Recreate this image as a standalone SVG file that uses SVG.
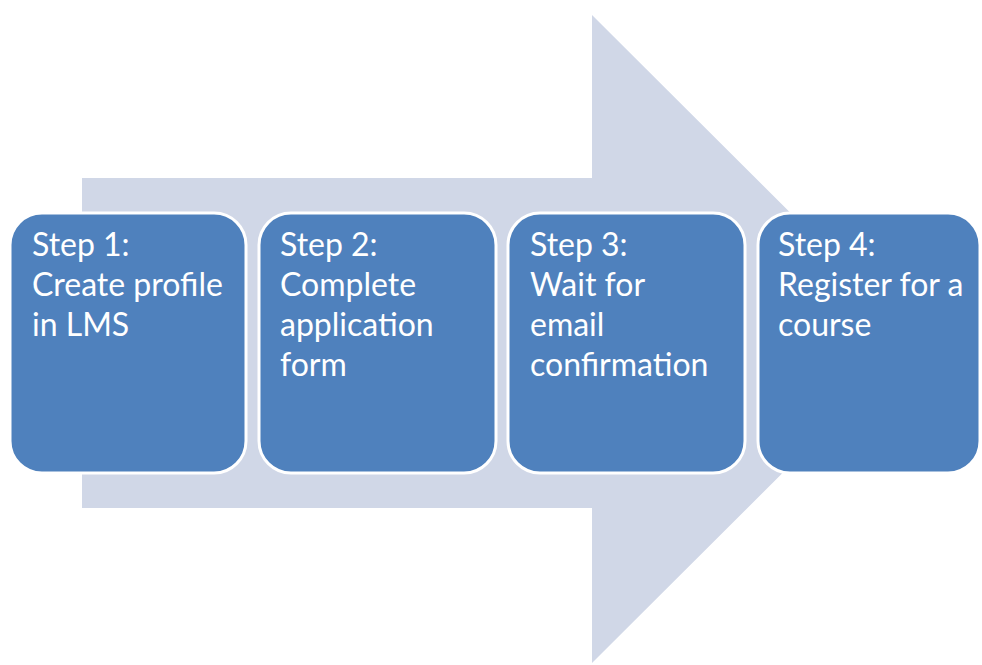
<svg xmlns="http://www.w3.org/2000/svg" width="982" height="665" viewBox="0 0 982 665">
<style>
.box{fill:#4F81BD;stroke:#FFFFFF;stroke-width:3}
.t{fill:#FFFFFF;font-family:Lato,"Open Sans","Liberation Sans",sans-serif;font-size:32px}
</style>
<rect width="982" height="665" fill="#FFFFFF"/>
<g id="arrow">
<polygon points="82,178 592,178 592,15 917,339 592,663 592,508 82,508" fill="#D0D7E7"/>
</g>
<g id="step1">
<rect class="box" x="10" y="213" width="236" height="260" rx="32"/>
<text class="t" x="32" y="256">Step 1:</text>
<text class="t" x="32" y="296">Create profile</text>
<text class="t" x="32" y="336">in LMS</text>
</g>
<g id="step2">
<rect class="box" x="259" y="213" width="237" height="260" rx="32"/>
<text class="t" x="280" y="256">Step 2:</text>
<text class="t" x="280" y="296">Complete</text>
<text class="t" x="280" y="336">application</text>
<text class="t" x="280" y="376">form</text>
</g>
<g id="step3">
<rect class="box" x="508" y="213" width="237" height="260" rx="32"/>
<text class="t" x="530" y="256">Step 3:</text>
<text class="t" x="530" y="296">Wait for</text>
<text class="t" x="530" y="336">email</text>
<text class="t" x="530" y="376">confirmation</text>
</g>
<g id="step4">
<rect class="box" x="758" y="213" width="222" height="260" rx="32"/>
<text class="t" x="778" y="256">Step 4:</text>
<text class="t" x="778" y="296">Register for a</text>
<text class="t" x="778" y="336">course</text>
</g>
</svg>
